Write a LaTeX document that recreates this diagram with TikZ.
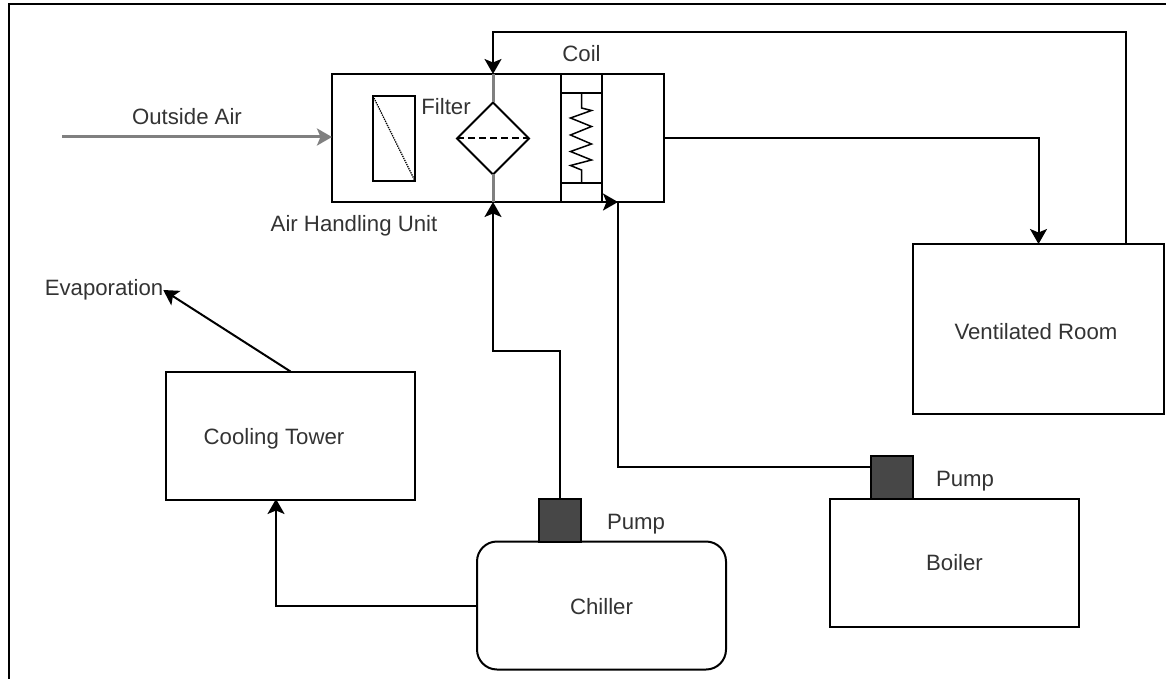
\documentclass[tikz,border=0pt]{standalone}
\usepackage{fontspec}
\setmainfont{Liberation Sans}
\usetikzlibrary{arrows.meta,positioning,shapes.geometric}
\definecolor{textgray}{gray}{0.2}
\definecolor{pumpgray}{HTML}{474747}

\begin{document}
\begin{tikzpicture}[x=1pt,y=-1pt,>={Stealth[length=15pt,width=17pt,inset=3.5pt]},
                    line width=2pt]
  \tikzstyle{every node}=[inner sep=0pt,outer sep=0pt,text=textgray,font=\fontsize{22.2}{26}\selectfont]
  \tikzstyle{block}=[draw,rectangle,minimum width=249pt,minimum height=128pt]
  \tikzstyle{pump}=[draw,fill=pumpgray,minimum width=42pt,minimum height=43pt]
  \tikzstyle{pipe}=[draw=black!50,line width=3pt]

  \useasboundingbox (0,0) rectangle (1166,679);
  \draw[line width=2.6pt] (9,679) -- (9,4) -- (1166,4);

  \node[block,minimum width=332pt] (AHU) at (498,138) {};
  \node[draw,minimum width=42pt,minimum height=85pt] (Screen) at (394,138.5) {};
  \node[draw,diamond,aspect=1,minimum width=72pt,minimum height=72pt] (Cooler) at (493,138.5) {};
  \node[draw,minimum width=41pt,minimum height=128pt] (Coil) at (581.5,138) {};
  \node[block,minimum width=251pt,minimum height=170pt] (Room) at (1038.5,329) {};
  \node[block] (Tower) at (290.5,435.5) {};
  \node[block,rounded corners=20pt] (Chiller) at (601.5,605.5) {};
  \node[block] (Boiler) at (954.5,563) {Boiler};
  \node[pump] (PumpC) [above=0pt of Chiller,xshift=-41.5pt] {};
  \node[pump] (PumpB) [above=0pt of Boiler,xshift=-62.5pt] {};

  \node (Outside) at (187,117) {Outside Air};
  \node (Filter) at (446,107) {Filter};
  \node (CoilText) [above=12pt of Coil] {Coil};
  \node (AHUText) at (354,226) {Air Handling Unit};
  \node (Evaporation) at (104,290) {Evaporation};
  \node (TowerText) at (274,439) {Cooling Tower};
  \node (RoomText) at (1036,332) {Ventilated Room};
  \node (ChillerText) at (601.5,607) {Chiller};
  \node (PumpTextC) [right=26pt of PumpC,yshift=-4pt] {Pump};
  \node (PumpTextB) [right=23pt of PumpB,yshift=-4pt] {Pump};

  \coordinate (Start) at (62,137);
  \coordinate (AHUin) at (332,137);
  \coordinate (Turn) at (493,32);
  \coordinate (Up) at (1126,244);
  \coordinate (AHUtop) at (493,74);
  \coordinate (AHUbot) at (493,202);
  \coordinate (Elbow) at (493,351);
  \coordinate (Riser) at (618,202);
  \coordinate (Mid) at (871,467);
  \coordinate (Entry) at (603,202);
  \coordinate (TowerIn) at (276,499);

  \draw[->,pipe] (Start) -- (AHUin);
  \draw[pipe] (AHUtop) -- (Cooler.north);
  \draw[pipe] (Cooler.south) -- (AHUbot);
  \draw[dash pattern=on 7pt off 4pt] (Cooler.west) -- (Cooler.east);
  \draw[densely dotted,line width=1.3pt] (Screen.north west) -- (Screen.south east);
  \draw (Coil.north west) ++(0,19) coordinate (CoilA) -- ++(41,0);
  \draw (Coil.south west) ++(0,-19) coordinate (CoilB) -- ++(41,0);
  \draw[line width=1.5pt] (581.5,93) -- (581.5,108) -- (591.5,110.5) -- (570.5,118)
        -- (591.5,126.5) -- (570.5,135) -- (591.5,144) -- (570.5,151.5)
        -- (591.5,160) -- (570.5,165.5) -- (581.5,170) -- (581.5,183);

  \draw[->] (Up) -- (Up |- Turn) -- (Turn) -- (AHUtop);
  \draw[->] (AHU.east) -| (Room.north);
  \draw[->] (PumpC.north) |- (Elbow) -- (AHUbot);
  \draw (Mid) -| (Riser);
  \draw[->] (Entry) -- (Riser);
  \draw[->] (Chiller.west) -| (TowerIn);
  \draw[->] (Tower.north) -- (Evaporation.east);
\end{tikzpicture}
\end{document}
